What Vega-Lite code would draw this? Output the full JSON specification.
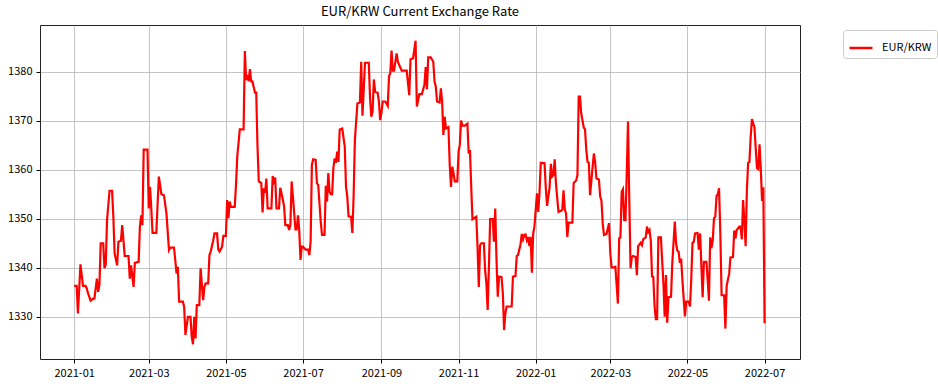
{
  "$schema": "https://vega.github.io/schema/vega-lite/v6.json",
  "width": 760,
  "height": 334,
  "autosize": {"type": "none"},
  "padding": {"left": 40, "top": 25, "right": 138, "bottom": 27},
  "background": "white",
  "title": {"text": "EUR/KRW Current Exchange Rate", "fontSize": 13, "fontWeight": "normal", "font": "Noto Sans CJK KR", "color": "#000", "anchor": "middle", "offset": 6},
  "config": {
    "view": {"stroke": "#222", "strokeWidth": 1},
    "axis": {"domain": false, "grid": true, "gridColor": "#b0b0b0", "gridOpacity": 0.75, "gridWidth": 1, "tickColor": "#000", "tickSize": 4, "labelFont": "Noto Sans CJK KR", "labelFontSize": 11, "labelColor": "#000", "title": null}
  },
  "data": {"values": [
    {"d":"2021-01-01","v":1336.3},{"d":"2021-01-03","v":1336.3},{"d":"2021-01-04","v":1330.7},{"d":"2021-01-06","v":1340.7},{"d":"2021-01-08","v":1336.3},{"d":"2021-01-10","v":1336.3},{"d":"2021-01-11","v":1335.8},{"d":"2021-01-12","v":1334.8},{"d":"2021-01-14","v":1333.3},{"d":"2021-01-16","v":1333.7},{"d":"2021-01-17","v":1333.7},{"d":"2021-01-19","v":1337.8},{"d":"2021-01-20","v":1335.1},{"d":"2021-01-21","v":1336.5},{"d":"2021-01-22","v":1345.0},{"d":"2021-01-24","v":1345.0},{"d":"2021-01-25","v":1339.9},{"d":"2021-01-26","v":1340.7},{"d":"2021-01-27","v":1349.7},{"d":"2021-01-29","v":1355.7},{"d":"2021-01-31","v":1355.7},
    {"d":"2021-02-01","v":1350.4},{"d":"2021-02-02","v":1342.9},{"d":"2021-02-04","v":1340.5},{"d":"2021-02-05","v":1345.3},{"d":"2021-02-07","v":1345.5},{"d":"2021-02-08","v":1348.7},{"d":"2021-02-09","v":1345.6},{"d":"2021-02-10","v":1342.4},{"d":"2021-02-13","v":1342.4},{"d":"2021-02-14","v":1337.8},{"d":"2021-02-15","v":1340.5},{"d":"2021-02-17","v":1336.1},{"d":"2021-02-18","v":1341.0},{"d":"2021-02-21","v":1341.2},{"d":"2021-02-22","v":1348.4},{"d":"2021-02-23","v":1350.7},{"d":"2021-02-24","v":1348.7},{"d":"2021-02-25","v":1364.1},{"d":"2021-02-28","v":1364.1},
    {"d":"2021-03-01","v":1352.1},{"d":"2021-03-02","v":1356.5},{"d":"2021-03-03","v":1352.1},{"d":"2021-03-04","v":1347.1},{"d":"2021-03-07","v":1347.1},{"d":"2021-03-08","v":1353.1},{"d":"2021-03-09","v":1358.6},{"d":"2021-03-11","v":1355.0},{"d":"2021-03-13","v":1354.8},{"d":"2021-03-15","v":1351.1},{"d":"2021-03-17","v":1343.6},{"d":"2021-03-18","v":1344.1},{"d":"2021-03-21","v":1344.1},{"d":"2021-03-23","v":1338.8},{"d":"2021-03-24","v":1340.2},{"d":"2021-03-25","v":1333.1},{"d":"2021-03-28","v":1333.1},{"d":"2021-03-29","v":1332.0},{"d":"2021-03-30","v":1326.3},
    {"d":"2021-04-01","v":1330.0},{"d":"2021-04-03","v":1330.0},{"d":"2021-04-04","v":1325.9},{"d":"2021-04-05","v":1324.4},{"d":"2021-04-06","v":1330.0},{"d":"2021-04-07","v":1325.6},{"d":"2021-04-08","v":1332.4},{"d":"2021-04-10","v":1332.4},{"d":"2021-04-11","v":1339.9},{"d":"2021-04-13","v":1333.4},{"d":"2021-04-14","v":1336.1},{"d":"2021-04-15","v":1336.8},{"d":"2021-04-17","v":1336.8},{"d":"2021-04-18","v":1342.6},{"d":"2021-04-19","v":1343.3},{"d":"2021-04-21","v":1345.6},{"d":"2021-04-22","v":1347.0},{"d":"2021-04-24","v":1347.0},{"d":"2021-04-25","v":1343.7},{"d":"2021-04-26","v":1343.3},{"d":"2021-04-28","v":1344.3},{"d":"2021-04-29","v":1346.5},
    {"d":"2021-05-01","v":1346.5},{"d":"2021-05-02","v":1353.8},{"d":"2021-05-03","v":1350.1},{"d":"2021-05-04","v":1353.5},{"d":"2021-05-05","v":1352.4},{"d":"2021-05-08","v":1352.4},{"d":"2021-05-09","v":1356.9},{"d":"2021-05-10","v":1362.7},{"d":"2021-05-12","v":1368.2},{"d":"2021-05-15","v":1368.2},{"d":"2021-05-16","v":1384.2},{"d":"2021-05-17","v":1378.3},{"d":"2021-05-18","v":1379.3},{"d":"2021-05-19","v":1378.0},{"d":"2021-05-20","v":1380.5},{"d":"2021-05-21","v":1378.0},{"d":"2021-05-22","v":1378.0},{"d":"2021-05-24","v":1375.7},{"d":"2021-05-25","v":1375.7},{"d":"2021-05-26","v":1364.7},{"d":"2021-05-27","v":1357.6},{"d":"2021-05-29","v":1357.3},{"d":"2021-05-30","v":1351.3},{"d":"2021-05-31","v":1356.2},
    {"d":"2021-06-01","v":1355.3},{"d":"2021-06-02","v":1358.2},{"d":"2021-06-03","v":1352.1},{"d":"2021-06-06","v":1352.1},{"d":"2021-06-07","v":1358.7},{"d":"2021-06-08","v":1357.6},{"d":"2021-06-09","v":1358.4},{"d":"2021-06-10","v":1352.1},{"d":"2021-06-12","v":1352.1},{"d":"2021-06-13","v":1356.3},{"d":"2021-06-14","v":1355.2},{"d":"2021-06-16","v":1352.6},{"d":"2021-06-17","v":1348.7},{"d":"2021-06-19","v":1348.7},{"d":"2021-06-20","v":1347.7},{"d":"2021-06-21","v":1348.7},{"d":"2021-06-22","v":1357.6},{"d":"2021-06-23","v":1354.5},{"d":"2021-06-25","v":1347.8},{"d":"2021-06-26","v":1347.8},{"d":"2021-06-27","v":1350.7},{"d":"2021-06-28","v":1347.7},{"d":"2021-06-29","v":1341.6},{"d":"2021-06-30","v":1344.3},
    {"d":"2021-07-01","v":1344.3},{"d":"2021-07-03","v":1343.7},{"d":"2021-07-05","v":1343.7},{"d":"2021-07-06","v":1342.6},{"d":"2021-07-07","v":1345.3},{"d":"2021-07-08","v":1361.0},{"d":"2021-07-09","v":1362.1},{"d":"2021-07-11","v":1362.0},{"d":"2021-07-12","v":1357.2},{"d":"2021-07-13","v":1356.9},{"d":"2021-07-15","v":1349.4},{"d":"2021-07-16","v":1346.7},{"d":"2021-07-18","v":1346.7},{"d":"2021-07-19","v":1356.7},{"d":"2021-07-20","v":1353.5},{"d":"2021-07-21","v":1359.3},{"d":"2021-07-22","v":1355.5},{"d":"2021-07-23","v":1355.0},{"d":"2021-07-24","v":1355.0},{"d":"2021-07-25","v":1360.3},{"d":"2021-07-26","v":1362.3},{"d":"2021-07-27","v":1361.4},{"d":"2021-07-28","v":1363.7},{"d":"2021-07-29","v":1361.6},{"d":"2021-07-30","v":1368.2},
    {"d":"2021-08-01","v":1368.4},{"d":"2021-08-03","v":1364.7},{"d":"2021-08-04","v":1356.5},{"d":"2021-08-05","v":1354.5},{"d":"2021-08-06","v":1350.5},{"d":"2021-08-08","v":1350.4},{"d":"2021-08-09","v":1347.1},{"d":"2021-08-10","v":1354.5},{"d":"2021-08-11","v":1366.1},{"d":"2021-08-13","v":1373.5},{"d":"2021-08-15","v":1373.7},{"d":"2021-08-16","v":1382.0},{"d":"2021-08-17","v":1371.0},{"d":"2021-08-19","v":1381.8},{"d":"2021-08-20","v":1381.8},{"d":"2021-08-22","v":1381.8},{"d":"2021-08-23","v":1374.6},{"d":"2021-08-24","v":1370.8},{"d":"2021-08-25","v":1371.8},{"d":"2021-08-26","v":1378.4},{"d":"2021-08-27","v":1375.9},{"d":"2021-08-29","v":1375.7},{"d":"2021-08-30","v":1373.9},{"d":"2021-08-31","v":1370.1},
    {"d":"2021-09-01","v":1371.6},{"d":"2021-09-02","v":1373.9},{"d":"2021-09-04","v":1373.9},{"d":"2021-09-06","v":1373.0},{"d":"2021-09-07","v":1379.0},{"d":"2021-09-08","v":1379.7},{"d":"2021-09-09","v":1384.3},{"d":"2021-09-10","v":1380.2},{"d":"2021-09-11","v":1380.2},{"d":"2021-09-13","v":1383.7},{"d":"2021-09-14","v":1382.0},{"d":"2021-09-15","v":1381.4},{"d":"2021-09-17","v":1380.2},{"d":"2021-09-21","v":1380.2},{"d":"2021-09-23","v":1375.2},{"d":"2021-09-24","v":1382.5},{"d":"2021-09-26","v":1382.7},{"d":"2021-09-28","v":1386.3},{"d":"2021-09-29","v":1372.9},
    {"d":"2021-10-01","v":1375.4},{"d":"2021-10-03","v":1375.4},{"d":"2021-10-05","v":1377.3},{"d":"2021-10-06","v":1380.9},{"d":"2021-10-07","v":1376.4},{"d":"2021-10-08","v":1382.9},{"d":"2021-10-10","v":1382.9},{"d":"2021-10-12","v":1382.0},{"d":"2021-10-13","v":1378.0},{"d":"2021-10-14","v":1376.9},{"d":"2021-10-15","v":1373.9},{"d":"2021-10-17","v":1373.7},{"d":"2021-10-18","v":1376.6},{"d":"2021-10-19","v":1373.9},{"d":"2021-10-20","v":1367.1},{"d":"2021-10-21","v":1370.8},{"d":"2021-10-22","v":1368.4},{"d":"2021-10-24","v":1368.7},{"d":"2021-10-25","v":1361.0},{"d":"2021-10-26","v":1356.5},{"d":"2021-10-27","v":1360.6},{"d":"2021-10-28","v":1359.3},{"d":"2021-10-29","v":1357.6},{"d":"2021-10-31","v":1357.6},
    {"d":"2021-11-01","v":1363.7},{"d":"2021-11-02","v":1365.1},{"d":"2021-11-03","v":1370.0},{"d":"2021-11-04","v":1369.0},{"d":"2021-11-06","v":1369.0},{"d":"2021-11-08","v":1369.4},{"d":"2021-11-09","v":1363.3},{"d":"2021-11-10","v":1364.0},{"d":"2021-11-11","v":1356.5},{"d":"2021-11-12","v":1349.9},{"d":"2021-11-15","v":1350.4},{"d":"2021-11-16","v":1344.3},{"d":"2021-11-17","v":1336.1},{"d":"2021-11-18","v":1344.6},{"d":"2021-11-19","v":1345.0},{"d":"2021-11-21","v":1345.0},{"d":"2021-11-22","v":1339.5},{"d":"2021-11-23","v":1336.8},{"d":"2021-11-24","v":1331.4},{"d":"2021-11-25","v":1340.2},{"d":"2021-11-26","v":1349.9},{"d":"2021-11-28","v":1349.9},{"d":"2021-11-29","v":1345.3},{"d":"2021-11-30","v":1352.1},
    {"d":"2021-12-01","v":1341.6},{"d":"2021-12-02","v":1334.1},{"d":"2021-12-03","v":1338.2},{"d":"2021-12-05","v":1338.1},{"d":"2021-12-06","v":1334.8},{"d":"2021-12-07","v":1327.3},{"d":"2021-12-08","v":1330.7},{"d":"2021-12-09","v":1332.1},{"d":"2021-12-13","v":1332.1},{"d":"2021-12-14","v":1338.2},{"d":"2021-12-16","v":1338.3},{"d":"2021-12-17","v":1342.4},{"d":"2021-12-18","v":1342.6},{"d":"2021-12-20","v":1344.8},{"d":"2021-12-21","v":1346.9},{"d":"2021-12-22","v":1345.8},{"d":"2021-12-23","v":1346.7},{"d":"2021-12-24","v":1346.8},{"d":"2021-12-25","v":1345.6},{"d":"2021-12-26","v":1346.3},{"d":"2021-12-27","v":1344.4},{"d":"2021-12-28","v":1346.3},{"d":"2021-12-29","v":1339.0},{"d":"2021-12-30","v":1347.0},{"d":"2021-12-31","v":1348.4},
    {"d":"2022-01-02","v":1355.2},{"d":"2022-01-03","v":1351.4},{"d":"2022-01-04","v":1355.2},{"d":"2022-01-05","v":1361.4},{"d":"2022-01-08","v":1361.3},{"d":"2022-01-09","v":1356.2},{"d":"2022-01-10","v":1352.6},{"d":"2022-01-12","v":1356.5},{"d":"2022-01-13","v":1361.2},{"d":"2022-01-14","v":1358.6},{"d":"2022-01-15","v":1358.9},{"d":"2022-01-16","v":1362.1},{"d":"2022-01-17","v":1357.2},{"d":"2022-01-19","v":1351.4},{"d":"2022-01-21","v":1351.6},{"d":"2022-01-22","v":1351.8},{"d":"2022-01-23","v":1355.8},{"d":"2022-01-24","v":1351.9},{"d":"2022-01-25","v":1351.1},{"d":"2022-01-26","v":1346.3},{"d":"2022-01-27","v":1349.2},{"d":"2022-01-30","v":1349.2},{"d":"2022-01-31","v":1357.3},
    {"d":"2022-02-02","v":1357.8},{"d":"2022-02-03","v":1358.9},{"d":"2022-02-04","v":1374.9},{"d":"2022-02-05","v":1374.9},{"d":"2022-02-06","v":1371.5},{"d":"2022-02-08","v":1368.6},{"d":"2022-02-09","v":1368.2},{"d":"2022-02-10","v":1364.0},{"d":"2022-02-11","v":1361.6},{"d":"2022-02-12","v":1361.4},{"d":"2022-02-13","v":1354.8},{"d":"2022-02-15","v":1360.6},{"d":"2022-02-16","v":1363.3},{"d":"2022-02-17","v":1361.6},{"d":"2022-02-18","v":1358.2},{"d":"2022-02-20","v":1358.0},{"d":"2022-02-21","v":1354.5},{"d":"2022-02-22","v":1353.7},{"d":"2022-02-23","v":1349.0},{"d":"2022-02-24","v":1346.7},{"d":"2022-02-26","v":1346.9},{"d":"2022-02-28","v":1349.1},
    {"d":"2022-03-01","v":1342.9},{"d":"2022-03-02","v":1340.1},{"d":"2022-03-04","v":1340.1},{"d":"2022-03-05","v":1340.2},{"d":"2022-03-06","v":1336.5},{"d":"2022-03-07","v":1332.7},{"d":"2022-03-08","v":1346.0},{"d":"2022-03-09","v":1346.2},{"d":"2022-03-10","v":1355.5},{"d":"2022-03-11","v":1356.0},{"d":"2022-03-12","v":1349.7},{"d":"2022-03-13","v":1349.7},{"d":"2022-03-14","v":1359.3},{"d":"2022-03-15","v":1369.8},{"d":"2022-03-16","v":1353.8},{"d":"2022-03-17","v":1339.9},{"d":"2022-03-18","v":1342.2},{"d":"2022-03-19","v":1342.4},{"d":"2022-03-21","v":1342.2},{"d":"2022-03-22","v":1338.5},{"d":"2022-03-23","v":1344.4},{"d":"2022-03-25","v":1345.1},{"d":"2022-03-26","v":1344.6},{"d":"2022-03-27","v":1345.8},{"d":"2022-03-29","v":1346.2},{"d":"2022-03-30","v":1348.4},{"d":"2022-03-31","v":1347.3},
    {"d":"2022-04-01","v":1347.7},{"d":"2022-04-02","v":1345.6},{"d":"2022-04-03","v":1338.2},{"d":"2022-04-04","v":1338.1},{"d":"2022-04-05","v":1332.1},{"d":"2022-04-06","v":1329.5},{"d":"2022-04-07","v":1329.5},{"d":"2022-04-08","v":1346.2},{"d":"2022-04-10","v":1346.2},{"d":"2022-04-12","v":1336.8},{"d":"2022-04-13","v":1330.0},{"d":"2022-04-14","v":1338.5},{"d":"2022-04-15","v":1328.8},{"d":"2022-04-16","v":1334.0},{"d":"2022-04-18","v":1334.1},{"d":"2022-04-19","v":1340.9},{"d":"2022-04-21","v":1349.4},{"d":"2022-04-22","v":1345.0},{"d":"2022-04-23","v":1343.5},{"d":"2022-04-24","v":1343.3},{"d":"2022-04-25","v":1341.0},{"d":"2022-04-26","v":1341.9},{"d":"2022-04-27","v":1337.5},{"d":"2022-04-29","v":1330.1},{"d":"2022-04-30","v":1333.1},
    {"d":"2022-05-02","v":1333.1},{"d":"2022-05-03","v":1332.1},{"d":"2022-05-04","v":1337.6},{"d":"2022-05-05","v":1345.1},{"d":"2022-05-06","v":1345.3},{"d":"2022-05-07","v":1347.0},{"d":"2022-05-09","v":1347.1},{"d":"2022-05-10","v":1343.7},{"d":"2022-05-11","v":1347.0},{"d":"2022-05-13","v":1334.0},{"d":"2022-05-14","v":1341.2},{"d":"2022-05-16","v":1341.2},{"d":"2022-05-17","v":1337.5},{"d":"2022-05-18","v":1333.3},{"d":"2022-05-19","v":1346.2},{"d":"2022-05-20","v":1344.0},{"d":"2022-05-21","v":1345.6},{"d":"2022-05-22","v":1350.1},{"d":"2022-05-23","v":1350.4},{"d":"2022-05-24","v":1354.6},{"d":"2022-05-25","v":1355.0},{"d":"2022-05-26","v":1356.2},{"d":"2022-05-27","v":1347.0},{"d":"2022-05-28","v":1334.4},{"d":"2022-05-30","v":1334.4},{"d":"2022-05-31","v":1327.6},
    {"d":"2022-06-01","v":1336.3},{"d":"2022-06-02","v":1337.6},{"d":"2022-06-03","v":1338.8},{"d":"2022-06-04","v":1342.1},{"d":"2022-06-06","v":1342.2},{"d":"2022-06-07","v":1347.6},{"d":"2022-06-08","v":1346.0},{"d":"2022-06-09","v":1347.7},{"d":"2022-06-11","v":1348.4},{"d":"2022-06-12","v":1348.4},{"d":"2022-06-13","v":1345.8},{"d":"2022-06-14","v":1353.8},{"d":"2022-06-15","v":1349.7},{"d":"2022-06-16","v":1344.4},{"d":"2022-06-17","v":1355.9},{"d":"2022-06-18","v":1361.4},{"d":"2022-06-19","v":1361.6},{"d":"2022-06-20","v":1366.7},{"d":"2022-06-21","v":1370.3},{"d":"2022-06-23","v":1368.6},{"d":"2022-06-24","v":1364.3},{"d":"2022-06-25","v":1360.3},{"d":"2022-06-26","v":1360.1},{"d":"2022-06-27","v":1365.2},{"d":"2022-06-28","v":1360.1},{"d":"2022-06-29","v":1353.6},{"d":"2022-06-30","v":1356.4},{"d":"2022-07-01","v":1328.7}
  ]},
  "mark": {"type": "line", "strokeWidth": 2.2, "interpolate": "linear"},
  "encoding": {
    "x": {"field": "d", "type": "temporal",
      "scale": {"domain": [{"year": 2020, "month": 12, "date": 5}, {"year": 2022, "month": 7, "date": 29}], "nice": false},
      "axis": {"format": "%Y-%m", "tickCount": {"interval": "month", "step": 2}, "labelPadding": 4}},
    "y": {"field": "v", "type": "quantitative",
      "scale": {"domain": [1321.4, 1389.5], "nice": false, "zero": false},
      "axis": {"values": [1330, 1340, 1350, 1360, 1370, 1380], "format": "d", "labelPadding": 4}},
    "color": {"datum": "EUR/KRW", "type": "nominal",
      "scale": {"range": ["#ff0000"]},
      "legend": {"title": null, "orient": "none", "legendX": 803, "legendY": 5, "symbolType": "stroke", "symbolSize": 529, "symbolStrokeWidth": 2.5, "labelFont": "Noto Sans CJK KR", "labelFontSize": 11, "labelColor": "#000", "strokeColor": "#cccccc", "cornerRadius": 3, "fillColor": "white", "padding": 5, "labelOffset": 8}}
  }
}
